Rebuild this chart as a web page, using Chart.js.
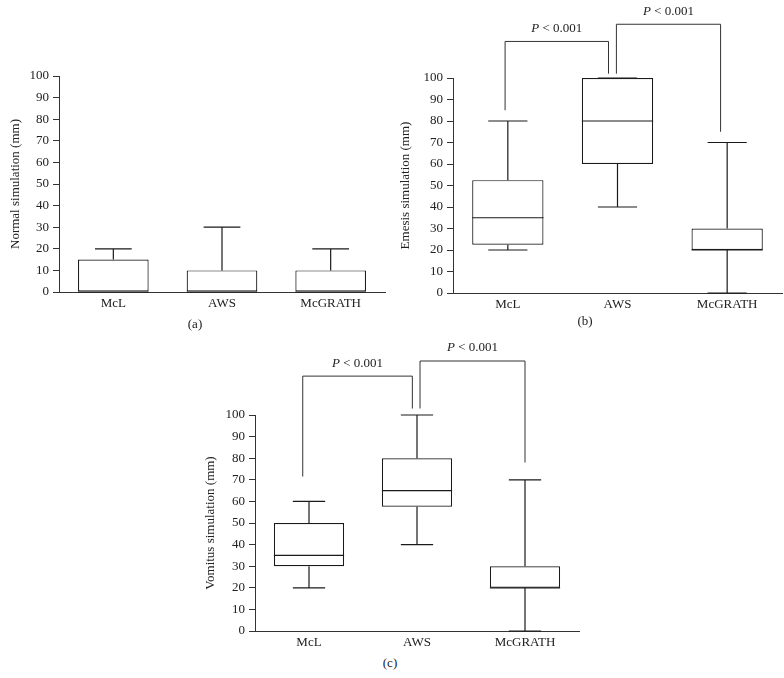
<!DOCTYPE html>
<html>
<head>
<meta charset="utf-8">
<script src="https://cdn.jsdelivr.net/npm/chart.js@4.4.1/dist/chart.umd.min.js"></script>
<style>
  body { margin: 0; background: #fff; }
  #fig { position: relative; width: 784px; height: 678px; font-family: "Liberation Serif", serif; color: #222; }
  #fig canvas { position: absolute; }
  .cap { position: absolute; font-size: 13px; transform: translate(-50%, -50%); white-space: nowrap; }
</style>
</head>
<body>
<div id="fig">
  <canvas id="chartA" width="392" height="312" style="left:0;top:0"></canvas>
  <canvas id="chartB" width="392" height="312" style="left:392px;top:0"></canvas>
  <canvas id="chartC" width="400" height="320" style="left:190px;top:330px"></canvas>
  <div class="cap" style="left:195px;top:324px">(a)</div>
  <div class="cap" style="left:585px;top:321px">(b)</div>
  <div class="cap" style="left:390px;top:663px">(c)</div>
</div>
<script>
const groups = ["McL", "AWS", "McGRATH"];

// (a) normal simulation
const normalMin = [0, 0, 0];
const normalQ1 = [0, 0, 0];
const normalMedian = [0, 0, 0];
const normalQ3 = [15, 10, 10];
const normalMax = [20, 30, 20];

// (b) emesis simulation
const emesisMin = [20, 40, 0];
const emesisQ1 = [22.5, 60, 20];
const emesisMedian = [35, 80, 20];
const emesisQ3 = [52.5, 100, 30];
const emesisMax = [80, 100, 70];

// (c) vomitus simulation
const vomitusMin = [20, 40, 0];
const vomitusQ1 = [30, 57.5, 20];
const vomitusMedian = [35, 65, 20];
const vomitusQ3 = [50, 80, 30];
const vomitusMax = [60, 100, 70];

const pLabels = ["P < 0.001", "P < 0.001"];

const FONT = "'Liberation Serif', serif";
const INK = "#1a1a1a";

// significance brackets: legs in category index, ends/top in mm
const emesisBrackets = [
  { legs: [-0.025, 0.918], ends: [85, 102], top: 117, text: pLabels[0] },
  { legs: [0.99, 1.94], ends: [102, 75], top: 125, text: pLabels[1] }
];
const vomitusBrackets = [
  { legs: [-0.058, 0.957], ends: [71.5, 103], top: 118, text: pLabels[0] },
  { legs: [1.028, 2.0], ends: [103, 78], top: 125, text: pLabels[1] }
];

function boxWhiskers(stats, capRatio, brackets) {
  return {
    id: "boxWhiskers",
    afterDatasetsDraw(chart) {
      const { ctx, scales: { x, y } } = chart;
      const meta = chart.getDatasetMeta(0);
      ctx.save();
      ctx.strokeStyle = INK;
      ctx.lineWidth = 1.2;
      meta.data.forEach((bar, i) => {
        const cx = bar.x;
        const half = bar.width / 2;
        const cap = half * capRatio;
        const yMin = y.getPixelForValue(stats.min[i]);
        const yQ1 = y.getPixelForValue(stats.q1[i]);
        const yMed = y.getPixelForValue(stats.median[i]);
        const yQ3 = y.getPixelForValue(stats.q3[i]);
        const yMax = y.getPixelForValue(stats.max[i]);
        ctx.beginPath();
        ctx.moveTo(cx, yQ3); ctx.lineTo(cx, yMax);
        ctx.moveTo(cx - cap, yMax); ctx.lineTo(cx + cap, yMax);
        ctx.moveTo(cx, yQ1); ctx.lineTo(cx, yMin);
        ctx.moveTo(cx - cap, yMin); ctx.lineTo(cx + cap, yMin);
        ctx.moveTo(cx - half, yMed); ctx.lineTo(cx + half, yMed);
        ctx.stroke();
      });

      ctx.strokeStyle = "#333";
      ctx.lineWidth = 1;
      (brackets || []).forEach((b) => {
        const x1 = x.getPixelForValue(b.legs[0]);
        const x2 = x.getPixelForValue(b.legs[1]);
        const yt = y.getPixelForValue(b.top);
        ctx.beginPath();
        ctx.moveTo(x1, y.getPixelForValue(b.ends[0]));
        ctx.lineTo(x1, yt);
        ctx.lineTo(x2, yt);
        ctx.lineTo(x2, y.getPixelForValue(b.ends[1]));
        ctx.stroke();

        const parts = b.text.split(" ");
        const head = parts[0];
        const rest = " " + parts.slice(1).join(" ");
        ctx.font = "italic 13px " + FONT;
        const wHead = ctx.measureText(head).width;
        ctx.font = "13px " + FONT;
        const wRest = ctx.measureText(rest).width;
        const left = (x1 + x2) / 2 - (wHead + wRest) / 2;
        ctx.fillStyle = "#222";
        ctx.textBaseline = "middle";
        ctx.textAlign = "left";
        ctx.font = "italic 13px " + FONT;
        ctx.fillText(head, left, yt - 13);
        ctx.font = "13px " + FONT;
        ctx.fillText(rest, left + wHead, yt - 13);
      });
      ctx.restore();
    }
  };
}

function makeChart(id, title, stats, frame, capRatio, brackets) {
  new Chart(document.getElementById(id), {
    type: "bar",
    data: {
      labels: groups,
      datasets: [
        {
          data: groups.map((g, i) => [stats.q1[i], stats.q3[i]]),
          backgroundColor: "#fff",
          borderColor: INK,
          borderWidth: 1.2,
          borderSkipped: false,
          barPercentage: 0.65,
          categoryPercentage: 1
        }
      ]
    },
    options: {
      responsive: false,
      animation: false,
      devicePixelRatio: 1,
      layout: { padding: { top: frame.top, right: frame.right, left: 0, bottom: 0 } },
      plugins: { legend: { display: false }, tooltip: { enabled: false } },
      scales: {
        x: {
          grid: { display: false, drawTicks: false },
          border: { display: true, color: "#333", width: 1 },
          ticks: { color: "#222", font: { family: FONT, size: 13 }, padding: 4 },
          afterFit: (s) => { s.height = frame.xHeight; }
        },
        y: {
          min: 0,
          max: 100,
          ticks: { stepSize: 10, color: "#222", font: { family: FONT, size: 13 }, padding: 4 },
          grid: { drawOnChartArea: false, drawTicks: true, tickLength: 6, color: "#333" },
          border: { color: "#333", width: 1 },
          title: {
            display: true,
            text: title,
            color: "#222",
            font: { family: FONT, size: 13 },
            padding: { top: frame.titlePad, bottom: 0 }
          },
          afterFit: (s) => { s.width = frame.yWidth; }
        }
      }
    },
    plugins: [boxWhiskers(stats, capRatio, brackets)]
  });
}

makeChart("chartA", "Normal simulation (mm)",
  { min: normalMin, q1: normalQ1, median: normalMedian, q3: normalQ3, max: normalMax },
  { top: 76, right: 7, xHeight: 20, yWidth: 59, titlePad: 8 }, 0.52, []);

makeChart("chartB", "Emesis simulation (mm)",
  { min: emesisMin, q1: emesisQ1, median: emesisMedian, q3: emesisQ3, max: emesisMax },
  { top: 78, right: 2, xHeight: 19, yWidth: 61, titlePad: 6 }, 0.55, emesisBrackets);

makeChart("chartC", "Vomitus simulation (mm)",
  { min: vomitusMin, q1: vomitusQ1, median: vomitusMedian, q3: vomitusQ3, max: vomitusMax },
  { top: 85, right: 11, xHeight: 19, yWidth: 65, titlePad: 13 }, 0.46, vomitusBrackets);
</script>
</body>
</html>
